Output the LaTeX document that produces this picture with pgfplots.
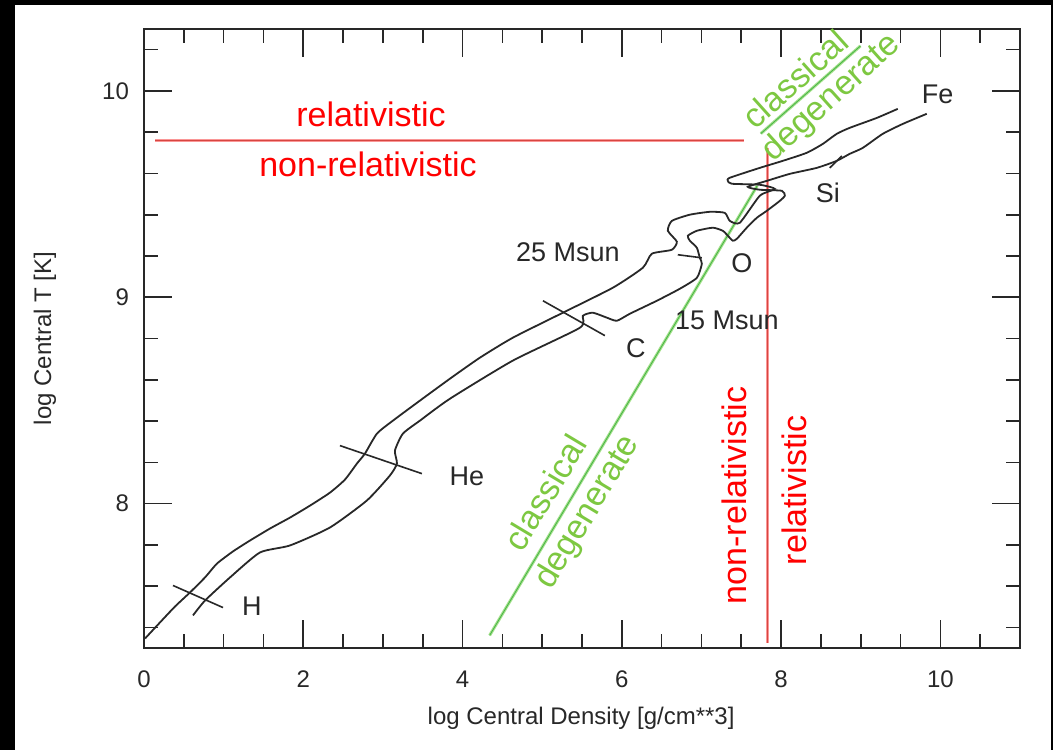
\documentclass[border=0pt]{standalone}
\usepackage{fontspec}
\setmainfont{Liberation Sans}
\usepackage{pgfplots}
\pgfplotsset{compat=1.18}
\definecolor{lgreen}{RGB}{125,200,65}
\definecolor{gline}{RGB}{165,225,140}
\definecolor{gcore}{RGB}{70,180,70}
\definecolor{rline}{RGB}{250,150,150}
\definecolor{rcore}{RGB}{215,70,65}
\definecolor{trk}{RGB}{40,40,40}
\begin{document}
\begin{tikzpicture}[x=1pt,y=1pt]
\fill[black] (0,0) rectangle (526.5,375);
\fill[white] (7.5,0) rectangle (525.5,372.5);
\begin{axis}[at={(72pt,51pt)}, anchor=south west, scale only axis,
  width=438pt, height=309.5pt,
  xmin=0, xmax=11, ymin=7.3, ymax=10.3,
  xtick={0,2,4,6,8,10}, ytick={8,9,10},
  minor xtick={0.5,1,...,11}, minor ytick={7.4,7.6,...,10.3},
  tick align=inside,
  major tick length=14pt, minor tick length=7pt,
  every tick/.style={trk, line width=0.8pt},
  axis line style={trk, line width=1pt},
  /pgf/number format/assume math mode=true,
  ticklabel style={font=\fontsize{12}{14}\selectfont, text=trk},
  xticklabel style={yshift=-8pt},
  yticklabel style={xshift=-4pt},
  xlabel={log Central Density [g/cm**3]},
  ylabel={log Central T [K]},
  label style={font=\fontsize{12}{14}\selectfont, text=trk},
  xlabel style={at={(axis description cs:0.499,-0.113)}, anchor=center},
  ylabel style={at={(axis description cs:-0.113,0.5)}, anchor=center},
  clip=false,
]
% red lines
\addplot[rline, line width=1.5pt] coordinates {(0.14,9.758) (7.54,9.758)};
\addplot[rcore, line width=0.35pt] coordinates {(0.14,9.758) (7.54,9.758)};
\addplot[rline, line width=1.5pt] coordinates {(7.83,9.725) (7.83,7.323)};
\addplot[rcore, line width=0.35pt] coordinates {(7.83,9.725) (7.83,7.323)};
% green lines
\addplot[gline, line width=1.5pt] coordinates {(4.34,7.361) (7.70,9.54)};
\addplot[gcore, line width=0.4pt] coordinates {(4.34,7.361) (7.70,9.54)};
\addplot[gline, line width=1.5pt] coordinates {(7.745,9.793) (8.997,10.218)};
\addplot[gcore, line width=0.4pt] coordinates {(7.745,9.793) (8.997,10.218)};
% upper track (25 Msun)
\addplot[trk, line width=0.9pt, smooth, tension=0.35] coordinates {
(0.013,7.346) (0.201,7.424) (0.389,7.501) (0.577,7.569) (0.766,7.642) (0.916,7.709)
(1.117,7.768) (1.331,7.821) (1.582,7.879) (1.833,7.932) (2.084,7.990) (2.335,8.053)
(2.523,8.116) (2.674,8.194) (2.774,8.242) (2.925,8.339) (3.126,8.402) (3.465,8.499)
(3.841,8.605) (4.218,8.707) (4.632,8.804) (5.260,8.925) (5.887,9.046) (6.264,9.143)
(6.377,9.211) (6.628,9.230) (6.691,9.269) (6.578,9.322) (6.628,9.370) (6.854,9.400)
(7.105,9.414) (7.293,9.409) (7.356,9.370) (7.482,9.361) (7.733,9.492) (7.921,9.525)
(7.733,9.545) (7.381,9.550) (7.331,9.564) (7.356,9.579) (7.733,9.627) (8.021,9.661)
(8.322,9.700) (8.523,9.743) (8.699,9.792) (8.862,9.821) (9.201,9.869) (9.465,9.913)};
% lower track (15 Msun)
\addplot[trk, line width=0.9pt, smooth, tension=0.35] coordinates {
(0.615,7.458) (0.766,7.530) (1.080,7.642) (1.456,7.763) (1.833,7.797) (2.335,7.884)
(2.799,8.015) (3.088,8.136) (3.176,8.194) (3.151,8.257) (3.251,8.339) (3.465,8.402)
(3.841,8.508) (4.632,8.693) (5.473,8.852) (5.511,8.910) (5.636,8.925) (5.812,8.901)
(5.938,8.886) (6.101,8.920) (6.440,8.983) (6.728,9.041) (6.942,9.094) (7.005,9.162)
(6.979,9.191) (6.942,9.240) (6.854,9.274) (6.829,9.298) (6.942,9.322) (7.143,9.337)
(7.268,9.322) (7.331,9.298) (7.394,9.274) (7.444,9.283) (7.569,9.337) (7.695,9.385)
(7.821,9.419) (7.984,9.467) (8.047,9.492) (8.009,9.516) (7.733,9.521) (7.582,9.535)
(7.821,9.564) (8.110,9.598) (8.448,9.627) (8.699,9.661) (8.862,9.695) (9.026,9.724)
(9.277,9.792) (9.528,9.840) (9.829,9.889)};
% burning markers
\addplot[trk, line width=0.8pt] coordinates {(0.364,7.603) (0.992,7.496)};
\addplot[trk, line width=0.8pt] coordinates {(2.460,8.281) (3.490,8.145)};
\addplot[trk, line width=0.8pt] coordinates {(5.009,8.983) (5.787,8.814)};
\addplot[trk, line width=0.8pt] coordinates {(6.703,9.206) (7.005,9.191)};
\addplot[trk, line width=0.8pt] coordinates {(8.611,9.627) (8.762,9.685)};
% labels
\begin{scope}[font=\fontsize{13.5}{16}\selectfont, text=trk]
\node at (axis cs:9.967,9.985) {Fe};
\node at (axis cs:8.586,9.506) {Si};
\node at (axis cs:7.507,9.167) {O};
\node at (axis cs:5.323,9.216) {25 Msun};
\node at (axis cs:7.319,8.886) {15 Msun};
\node at (axis cs:6.176,8.751) {C};
\node at (axis cs:4.055,8.131) {He};
\node at (axis cs:1.356,7.501) {H};
\end{scope}
\begin{scope}[font=\fontsize{17}{20}\selectfont]
\node[text=red] at (axis cs:2.850,9.884) {relativistic};
\node[text=red] at (axis cs:2.812,9.642) {non-relativistic};
\node[text=red, rotate=90] at (axis cs:7.419,8.039) {non-relativistic};
\node[text=red, rotate=90] at (axis cs:8.172,8.063) {relativistic};
\node[text=lgreen, rotate=42] at (axis cs:8.172,10.058) {classical};
\node[text=lgreen, rotate=42] at (axis cs:8.637,9.966) {degenerate};
\node[text=lgreen, rotate=59] at (axis cs:5.034,8.053) {classical};
\node[text=lgreen, rotate=59] at (axis cs:5.574,7.956) {degenerate};
\end{scope}
\end{axis}
\end{tikzpicture}
\end{document}
